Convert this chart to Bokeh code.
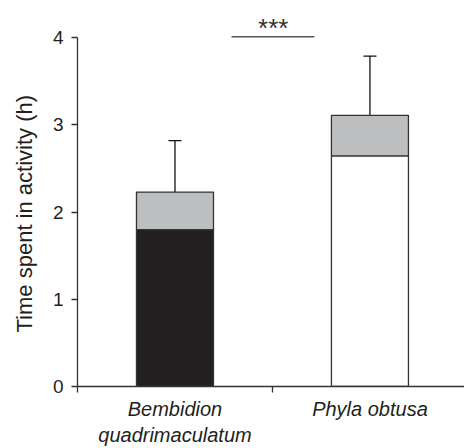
from bokeh.plotting import figure
from bokeh.models import FixedTicker, Range1d, Whisker, ColumnDataSource, TeeHead, Title
from bokeh.embed import file_html
from bokeh.resources import INLINE
from bokeh.core.properties import value

# ---- data ----
species = ["Bembidion\nquadrimaculatum", "Phyla obtusa"]
base_values = [1.80, 2.645]      # lower (coloured) part of each bar
total_values = [2.23, 3.11]      # total height (grey cap on top)
error_values = [0.59, 0.68]      # +/- error around total
base_colors = ["#231f20", "#ffffff"]
top_color = "#bcbec0"
y_ticks = [0, 1, 2, 3, 4]
y_label = "Time spent in activity (h)"
sig_label = "***"

FONT = "Liberation Sans"
TXT = "#231f20"
xs = [i + 0.5 for i in range(len(species))]
lower = [t - e for t, e in zip(total_values, error_values)]
upper = [t + e for t, e in zip(total_values, error_values)]

p = figure(width=464, height=448, output_backend="svg", toolbar_location=None,
           x_range=Range1d(0, 1.985), y_range=Range1d(0, 4.427),
           min_border_left=77, min_border_right=0, min_border_top=0,
           min_border_bottom=61)
p.outline_line_color = None
p.xgrid.grid_line_color = None
p.ygrid.grid_line_color = None
p.background_fill_color = "white"
p.border_fill_color = "white"

src = ColumnDataSource(dict(x=xs, base=base_values, total=total_values,
                            color=base_colors, lower=lower, upper=upper))

p.vbar(x="x", width=0.395, bottom=0, top="base", fill_color="color",
       line_color="#333333", line_width=1.3, source=src)
p.vbar(x="x", width=0.395, bottom="base", top="total", fill_color=top_color,
       line_color="#333333", line_width=1.3, source=src)

w = Whisker(base="x", upper="upper", lower="lower", source=src,
            line_color="#111111", line_width=1.3,
            upper_head=TeeHead(size=13, line_color="#111111", line_width=1.3),
            lower_head=TeeHead(size=13, line_color="#111111", line_width=1.3))
p.add_layout(w)

# significance bracket
p.segment(x0=0.79, y0=4.01, x1=1.215, y1=4.01, line_color="#555555", line_width=1.5)
p.text(x=[1.004], y=[4.106], text=[sig_label], text_font=value(FONT),
       text_font_size="26px", text_align="center", text_baseline="alphabetic",
       text_color="#333333")

# y axis
ya = p.yaxis[0]
ya.ticker = FixedTicker(ticks=y_ticks)
ya.bounds = (0, 4)
ya.axis_line_color = "#333333"
ya.axis_line_width = 1.3
ya.major_tick_line_color = "#333333"
ya.major_tick_line_width = 1.3
ya.major_tick_out = 6
ya.major_tick_in = 0
ya.minor_tick_line_color = None
ya.major_label_text_font = FONT
ya.major_label_text_font_size = "19px"
ya.major_label_text_color = TXT
ya.major_label_standoff = 8

# y label as a side title so it can be placed along the 0-4 axis span
p.add_layout(Title(text=y_label, align="left", offset=54, standoff=22,
                   vertical_align="top",
                   text_font=FONT, text_font_size="22px",
                   text_font_style="normal", text_color=TXT), "left")

# x axis
xa = p.xaxis[0]
xa.ticker = FixedTicker(ticks=xs, minor_ticks=[0, 1, 2])
xa.major_label_overrides = {x: s for x, s in zip(xs, species)}
xa.axis_line_color = "#333333"
xa.axis_line_width = 1.3
xa.major_tick_line_color = None
xa.major_tick_out = 0
xa.major_tick_in = 0
xa.minor_tick_line_color = "#333333"
xa.minor_tick_line_width = 1.3
xa.minor_tick_out = 6
xa.minor_tick_in = 0
xa.major_label_text_font = FONT
xa.major_label_text_font_size = "20px"
xa.major_label_text_font_style = "italic"
xa.major_label_text_color = TXT
xa.major_label_standoff = 5

open("out.html", "w").write(file_html(p, INLINE))
